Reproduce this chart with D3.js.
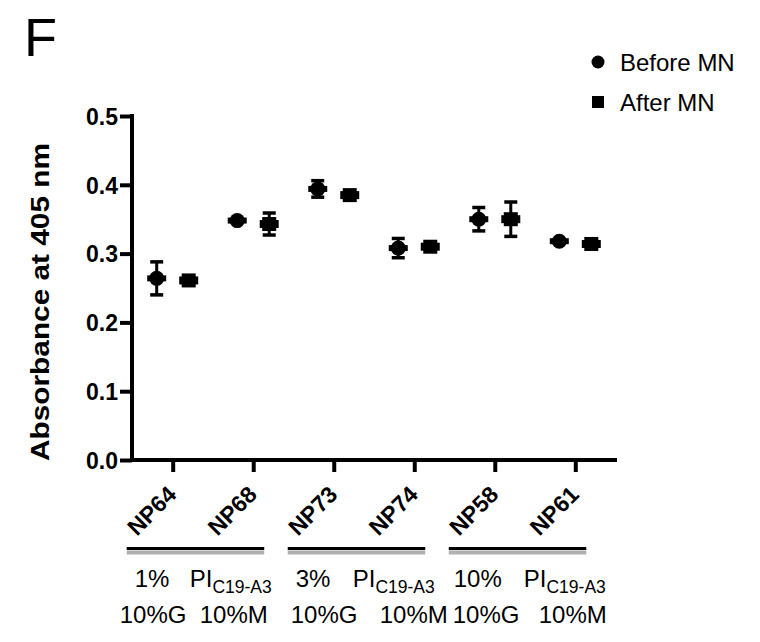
<!DOCTYPE html>
<html>
<head>
<meta charset="utf-8">
<script src="https://cdn.jsdelivr.net/npm/d3@7"></script>
<style>
  html, body { margin: 0; padding: 0; background: #fff; }
  svg { display: block; font-family: "Liberation Sans", Arial, Helvetica, sans-serif; }
</style>
</head>
<body>
<svg id="chart" width="760" height="642"></svg>
<script>
// Nanoparticle formulations on the x axis
const categories = ["NP64", "NP68", "NP73", "NP74", "NP58", "NP61"];

// Mean absorbance at 405 nm and SD, before and after MN
const beforeMean = [0.264, 0.348, 0.394, 0.308, 0.350, 0.318];
const beforeSD   = [0.024, 0.003, 0.012, 0.014, 0.017, 0.002];
const afterMean  = [0.261, 0.343, 0.385, 0.310, 0.350, 0.314];
const afterSD    = [0.003, 0.016, 0.003, 0.003, 0.025, 0.003];

const yTicks = [0.0, 0.1, 0.2, 0.3, 0.4, 0.5];
const seriesNames = ["Before MN", "After MN"];

// Formulation groups (pairs of NPs) written under the axis
const groupPct = ["1%", "3%", "10%"];
const groupPI = ["PI", "PI", "PI"];
const groupSub = ["C19-A3", "C19-A3", "C19-A3"];
const groupG = ["10%G", "10%G", "10%G"];
const groupM = ["10%M", "10%M", "10%M"];

const svg = d3.select("#chart");
const ink = "#000";

const x = d3.scalePoint().domain(categories).range([172.7, 575.3]);
const y = d3.scaleLinear().domain([0, 0.5]).range([460, 116]);
const axisLeftX = 132;
const axisRightX = 617;
const offset = 16;

// Panel letter
svg.append("text")
  .attr("x", 24).attr("y", 56)
  .attr("font-size", 54)
  .attr("fill", ink)
  .text("F");

// Y axis
const yAxis = svg.append("g")
  .attr("transform", `translate(${axisLeftX},0)`)
  .call(d3.axisLeft(y).tickValues(yTicks).tickFormat(d3.format(".1f")).tickSize(12).tickSizeOuter(0).tickPadding(2));
yAxis.select(".domain").attr("stroke", ink).attr("stroke-width", 4).attr("d", `M0,${y(0) + 2}V${y(0.5) - 2}`);
yAxis.selectAll(".tick line").attr("stroke", ink).attr("stroke-width", 4);
yAxis.selectAll(".tick text")
  .attr("font-size", 23).attr("font-weight", "bold").attr("fill", ink)
  .attr("font-family", "'Liberation Sans', Arial, sans-serif")
  .attr("dy", "0.36em");

// X axis
const xAxis = svg.append("g")
  .attr("transform", `translate(0,${y(0)})`)
  .call(d3.axisBottom(x).tickSize(12).tickSizeOuter(0).tickFormat(""));
xAxis.select(".domain").remove();
xAxis.append("line")
  .attr("x1", axisLeftX - 2).attr("x2", axisRightX)
  .attr("y1", 0).attr("y2", 0)
  .attr("stroke", ink).attr("stroke-width", 4);
xAxis.selectAll(".tick line").attr("stroke", ink).attr("stroke-width", 4);

// Rotated category labels
svg.append("g").selectAll("text")
  .data(categories)
  .join("text")
  .attr("transform", d => `translate(${x(d) + 5},496) rotate(-45)`)
  .attr("text-anchor", "end")
  .attr("font-size", 23).attr("font-weight", "bold").attr("fill", ink)
  .text(d => d);

// Y axis title
svg.append("text")
  .attr("transform", `translate(49,302) rotate(-90)`)
  .attr("text-anchor", "middle")
  .attr("font-size", 25).attr("font-weight", "bold").attr("fill", ink)
  .attr("textLength", 318).attr("lengthAdjust", "spacingAndGlyphs")
  .text("Absorbance at 405 nm");

// Error bars + markers
const capHalf = 6.5;
function drawSeries(means, sds, dx, shape) {
  const g = svg.append("g");
  const rows = categories.map((c, i) => ({ c, m: means[i], s: sds[i] }));
  const bars = g.selectAll("g.eb").data(rows).join("g").attr("class", "eb");
  bars.append("line")
    .attr("x1", d => x(d.c) + dx).attr("x2", d => x(d.c) + dx)
    .attr("y1", d => y(d.m + d.s)).attr("y2", d => y(d.m - d.s))
    .attr("stroke", ink).attr("stroke-width", 3);
  [1, -1].forEach(sign => {
    bars.append("line")
      .attr("x1", d => x(d.c) + dx - capHalf).attr("x2", d => x(d.c) + dx + capHalf)
      .attr("y1", d => y(d.m + sign * d.s)).attr("y2", d => y(d.m + sign * d.s))
      .attr("stroke", ink).attr("stroke-width", 3.5);
  });
  if (shape === "circle") {
    bars.append("circle")
      .attr("cx", d => x(d.c) + dx).attr("cy", d => y(d.m)).attr("r", 7.5)
      .attr("fill", ink);
    // horizontal notch that GraphPad-style markers show
    bars.append("rect")
      .attr("x", d => x(d.c) + dx - 9.5).attr("y", d => y(d.m) - 3)
      .attr("width", 19).attr("height", 6).attr("fill", ink);
  } else {
    bars.append("rect")
      .attr("x", d => x(d.c) + dx - 7).attr("y", d => y(d.m) - 7)
      .attr("width", 14).attr("height", 14)
      .attr("fill", ink);
    bars.append("rect")
      .attr("x", d => x(d.c) + dx - 9.5).attr("y", d => y(d.m) - 4)
      .attr("width", 19).attr("height", 8).attr("fill", ink);
  }
}
drawSeries(beforeMean, beforeSD, -offset, "circle");
drawSeries(afterMean, afterSD, offset, "square");

// Legend
const legend = svg.append("g");
seriesNames.forEach((name, i) => {
  const cy = 62 + i * 40;
  if (i === 0) {
    legend.append("circle").attr("cx", 598).attr("cy", cy).attr("r", 6.5).attr("fill", ink);
  } else {
    legend.append("rect").attr("x", 592).attr("y", cy - 6).attr("width", 12).attr("height", 12).attr("fill", ink);
  }
  legend.append("text")
    .attr("x", 620).attr("y", cy + 8.5)
    .attr("font-size", 24).attr("fill", ink)
    .text(name);
});

// Group brackets and composition text
const rowPctOffsets = [[8, 63], [8, 65], [5, 75]];
const rowGMOffsets = [[-7, 73], [3, 92], [4, 90]];
groupPct.forEach((pct, gi) => {
  const first = categories[gi * 2], second = categories[gi * 2 + 1];
  const x1 = x(first) - 46, x2 = x(second) + 11;
  svg.append("line")
    .attr("x1", x1).attr("x2", x2).attr("y1", 552.5).attr("y2", 552.5)
    .attr("stroke", "#b0b0b0").attr("stroke-width", 4);
  svg.append("line")
    .attr("x1", x1).attr("x2", x2).attr("y1", 548.5).attr("y2", 548.5)
    .attr("stroke", ink).attr("stroke-width", 3);

  svg.append("text")
    .attr("x", x1 + rowPctOffsets[gi][0]).attr("y", 587)
    .attr("font-size", 24).attr("fill", ink)
    .text(pct);
  const pi = svg.append("text")
    .attr("x", x1 + rowPctOffsets[gi][1]).attr("y", 587)
    .attr("font-size", 24).attr("fill", ink);
  pi.append("tspan").text(groupPI[gi]);
  pi.append("tspan").attr("dy", 6).attr("font-size", 17.5).text(groupSub[gi]);

  svg.append("text")
    .attr("x", x1 + rowGMOffsets[gi][0]).attr("y", 623)
    .attr("font-size", 24).attr("fill", ink)
    .text(groupG[gi]);
  svg.append("text")
    .attr("x", x1 + rowGMOffsets[gi][1]).attr("y", 623)
    .attr("font-size", 24).attr("fill", ink)
    .text(groupM[gi]);
});
</script>
</body>
</html>
